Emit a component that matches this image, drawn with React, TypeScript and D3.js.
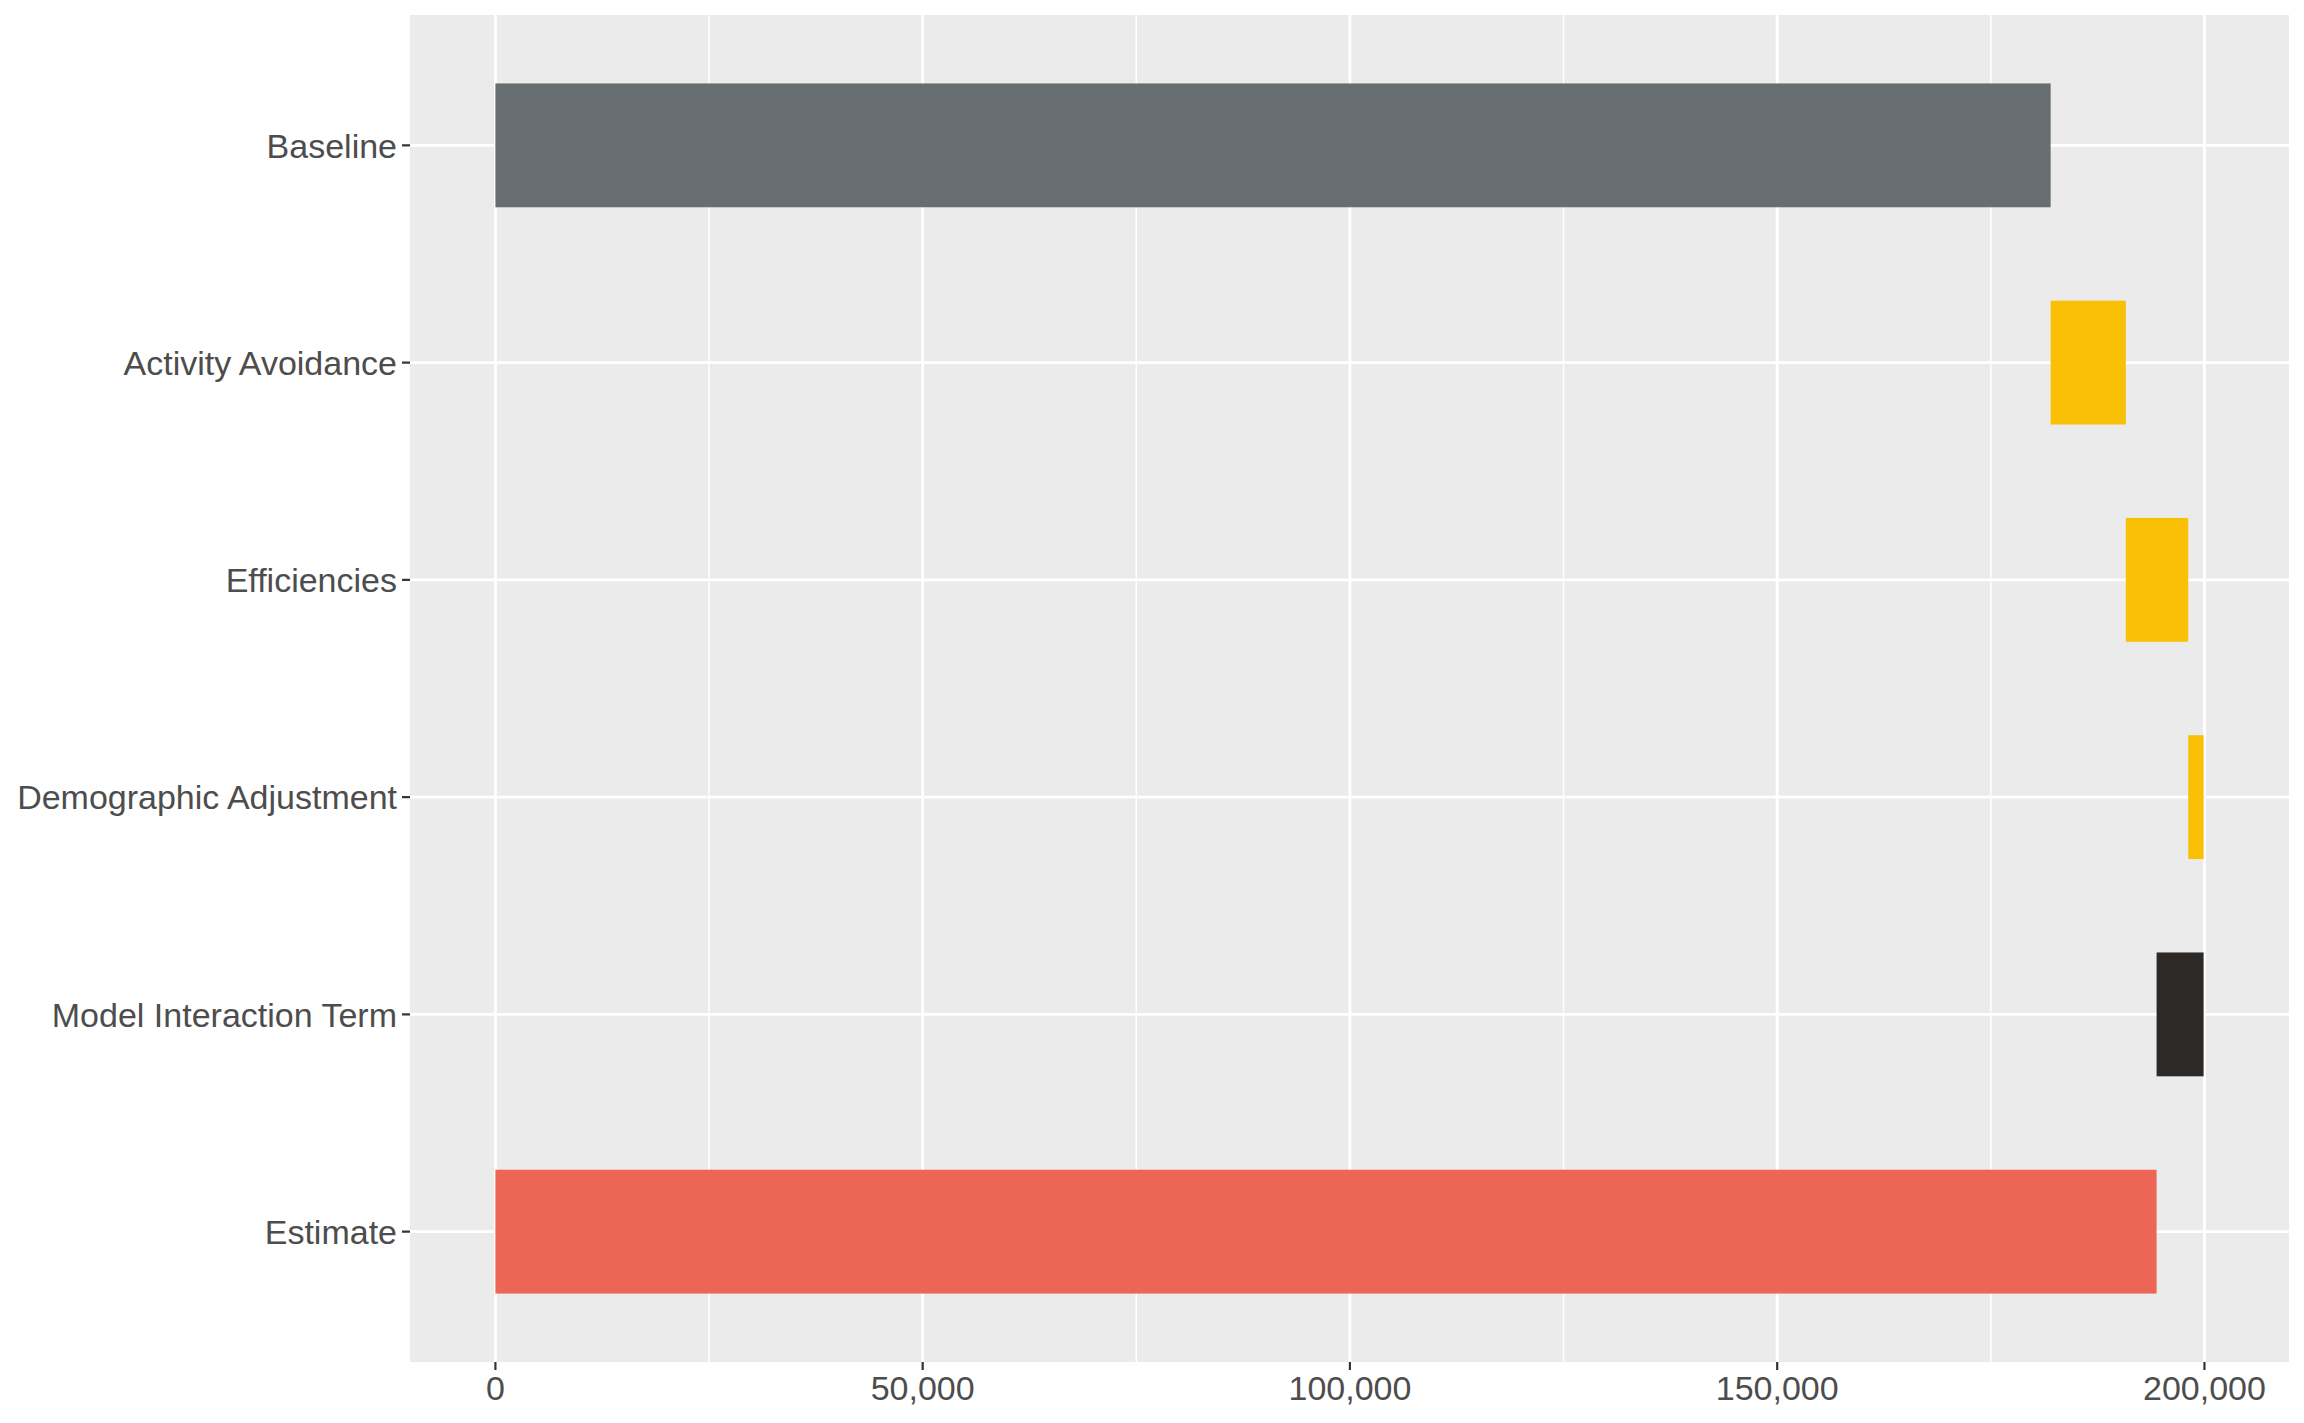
import React from "react";
import * as d3 from "d3";

const categories = [
  "Baseline",
  "Activity Avoidance",
  "Efficiencies",
  "Demographic Adjustment",
  "Model Interaction Term",
  "Estimate",
];
const changes = [182000, 8800, 7300, 1800, -5500, 194400];
const kinds = ["baseline", "change", "change", "change", "interaction", "estimate"];
const majorTicks = [0, 50000, 100000, 150000, 200000];
const minorTicks = [25000, 75000, 125000, 175000];

const W = 2304;
const H = 1423;
const panel = { left: 410, right: 2289, top: 15, bottom: 1362 };

const colorOf: Record<string, string> = {
  baseline: "#676E71",
  change: "#F9C005",
  interaction: "#2C2926",
  estimate: "#EC6555",
};

export default function App() {
  let running = 0;
  const bars = categories.map((c, i) => {
    const k = kinds[i];
    let start: number, end: number;
    if (k === "baseline" || k === "estimate") {
      start = 0;
      end = changes[i];
      running = end;
    } else {
      start = running;
      end = running + changes[i];
      running = end;
    }
    return { c, i, k, start, end };
  });

  const lo = d3.min(bars, (b) => Math.min(b.start, b.end)) as number;
  const hi = d3.max(bars, (b) => Math.max(b.start, b.end)) as number;
  const pad = (hi - lo) * 0.05;
  const x = d3.scaleLinear().domain([lo - pad, hi + pad]).range([panel.left, panel.right]);
  const y = d3
    .scaleLinear()
    .domain([-0.6, categories.length - 1 + 0.6])
    .range([panel.top, panel.bottom]);
  const step = y(1) - y(0);
  const barH = step * 0.57;
  const fmt = d3.format(",");
  const font = "'Liberation Sans', Arial, Helvetica, sans-serif";

  return (
    <svg
      width={W}
      height={H}
      style={{ position: "absolute", left: 0, top: 0, background: "#FFFFFF" }}
    >
      <rect
        x={panel.left}
        y={panel.top}
        width={panel.right - panel.left}
        height={panel.bottom - panel.top}
        fill="#EBEBEB"
      />
      {minorTicks.map((t) => (
        <line key={"mi" + t} x1={x(t)} x2={x(t)} y1={panel.top} y2={panel.bottom} stroke="#FFFFFF" strokeWidth={1.45} />
      ))}
      {majorTicks.map((t) => (
        <line key={"ma" + t} x1={x(t)} x2={x(t)} y1={panel.top} y2={panel.bottom} stroke="#FFFFFF" strokeWidth={2.9} />
      ))}
      {categories.map((c, i) => (
        <line key={"hg" + c} x1={panel.left} x2={panel.right} y1={y(i)} y2={y(i)} stroke="#FFFFFF" strokeWidth={2.9} />
      ))}
      {bars.map((b) => (
        <rect
          key={"b" + b.c}
          x={x(Math.min(b.start, b.end))}
          width={Math.abs(x(b.end) - x(b.start))}
          y={y(b.i) - barH / 2}
          height={barH}
          fill={colorOf[b.k]}
        />
      ))}
      {categories.map((c, i) => (
        <g key={"yt" + c}>
          <line x1={panel.left - 8} x2={panel.left} y1={y(i)} y2={y(i)} stroke="#333333" strokeWidth={2.2} />
          <text
            x={panel.left - 13}
            y={y(i) + 12.2}
            textAnchor="end"
            fontFamily={font}
            fontSize={34}
            fill="#4D4D4D"
          >
            {c}
          </text>
        </g>
      ))}
      {majorTicks.map((t) => (
        <g key={"xt" + t}>
          <line x1={x(t)} x2={x(t)} y1={panel.bottom} y2={panel.bottom + 8} stroke="#333333" strokeWidth={2.2} />
          <text
            x={x(t)}
            y={panel.bottom + 38}
            textAnchor="middle"
            fontFamily={font}
            fontSize={34}
            fill="#4D4D4D"
          >
            {fmt(t)}
          </text>
        </g>
      ))}
    </svg>
  );
}
